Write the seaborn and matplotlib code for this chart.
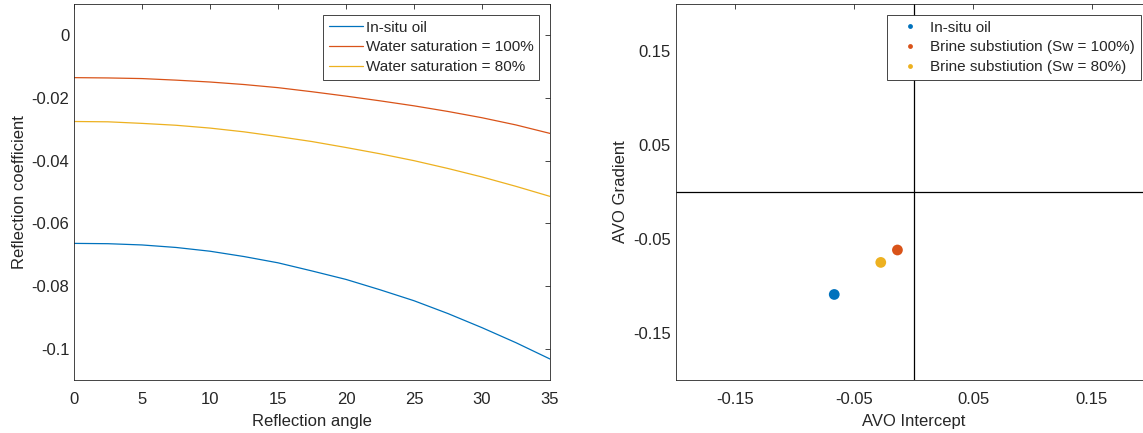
import numpy as np
import pandas as pd
import seaborn as sns
import matplotlib.pyplot as plt
from matplotlib.ticker import FuncFormatter

# curvas de reflexão (ângulo em graus)
angles = [0, 2.5, 5, 7.5, 10, 12.5, 15, 17.5, 20, 22.5, 25, 27.5, 30, 32.5, 35]
r_oil = [-0.0664, -0.0665, -0.0669, -0.0677, -0.0689, -0.0706, -0.0726, -0.0752,
         -0.0779, -0.0812, -0.0847, -0.0888, -0.0933, -0.0981, -0.1033]
r_sw100 = [-0.0135, -0.0136, -0.0138, -0.0143, -0.0149, -0.0157, -0.0167, -0.0180,
           -0.0194, -0.0209, -0.0225, -0.0243, -0.0263, -0.0286, -0.0313]
r_sw80 = [-0.0275, -0.0276, -0.0281, -0.0287, -0.0296, -0.0308, -0.0323, -0.0339,
          -0.0358, -0.0378, -0.0400, -0.0425, -0.0452, -0.0482, -0.0514]
line_labels = ['In-situ oil', 'Water saturation = 100%', 'Water saturation = 80%']

# intercepto / gradiente AVO
point_labels = ['In-situ oil', 'Brine substiution (Sw = 100%)', 'Brine substiution (Sw = 80%)']
intercepts = [-0.0666, -0.0135, -0.0275]
gradients = [-0.109, -0.0617, -0.0749]

cores = ['#0072BD', '#D95319', '#EDB120']
cinza = '#262626'

sns.set_style('white')
plt.rcParams['font.family'] = ['Liberation Sans', 'DejaVu Sans']
plt.rcParams['axes.unicode_minus'] = False
plt.rcParams['font.size'] = 12

n = len(angles)
curvas = pd.DataFrame({
    'angle': angles * 3,
    'R': r_oil + r_sw100 + r_sw80,
    'case': [line_labels[0]] * n + [line_labels[1]] * n + [line_labels[2]] * n,
})
pontos = pd.DataFrame({'intercept': intercepts, 'gradient': gradients, 'case': point_labels})

fig = plt.figure(figsize=(11.43, 4.33), dpi=100)
ax1 = fig.add_axes([74 / 1143, 53 / 433, 476 / 1143, 376 / 433])
ax2 = fig.add_axes([675.5 / 1143, 53 / 433, 476 / 1143, 376 / 433])

sns.lineplot(data=curvas, x='angle', y='R', hue='case', hue_order=line_labels,
             palette=cores, linewidth=0.9, ax=ax1)
ax1.set_xlim(0, 35)
ax1.set_ylim(-0.11, 0.01)
ax1.set_xticks(np.arange(0, 36, 5))
ax1.set_yticks([-0.1, -0.08, -0.06, -0.04, -0.02, 0])
ax1.set_xlabel('Reflection angle', color=cinza, labelpad=5.5)
ax1.set_ylabel('Reflection coefficient', color=cinza, labelpad=3.5)

ax2.axhline(0, color='black', linewidth=0.9, zorder=1)
ax2.axvline(0, color='black', linewidth=0.9, zorder=1)
sns.scatterplot(data=pontos, x='intercept', y='gradient', hue='case', hue_order=point_labels,
                palette=cores, s=60, linewidth=0, zorder=3, ax=ax2)
ax2.set_xlim(-0.2, 0.2)
ax2.set_ylim(-0.2, 0.2)
ax2.set_xticks([-0.15, -0.05, 0.05, 0.15])
ax2.set_yticks([-0.15, -0.05, 0.05, 0.15])
ax2.set_xlabel('AVO Intercept', color=cinza, labelpad=5.5)
ax2.set_ylabel('AVO Gradient', color=cinza, labelpad=3.5)

fmt = FuncFormatter(lambda v, pos: f'{round(v, 4):g}')
for ax, escala in [(ax1, 1.0), (ax2, 0.45)]:
    ax.xaxis.set_major_formatter(fmt)
    ax.yaxis.set_major_formatter(fmt)
    ax.tick_params(direction='in', length=3.6, width=0.6, colors=cinza,
                   top=True, right=True, labelsize=12)
    ax.tick_params(axis='x', pad=8.5)
    ax.tick_params(axis='y', pad=3.4)
    for sp in ax.spines.values():
        sp.set_visible(True)
        sp.set_color(cinza)
        sp.set_linewidth(0.6)
    handles, labels = ax.get_legend_handles_labels()
    leg = ax.legend(handles, labels, loc='upper right', fontsize=11, frameon=True,
                    fancybox=False, framealpha=1, edgecolor=cinza, borderaxespad=0.69,
                    borderpad=0.4, handlelength=2.2, handletextpad=0.2, labelspacing=0.38,
                    markerscale=escala)
    leg.get_frame().set_linewidth(0.6)

# eixo direito: a figura original corta a borda direita
fig.savefig('out.png', dpi=100)
